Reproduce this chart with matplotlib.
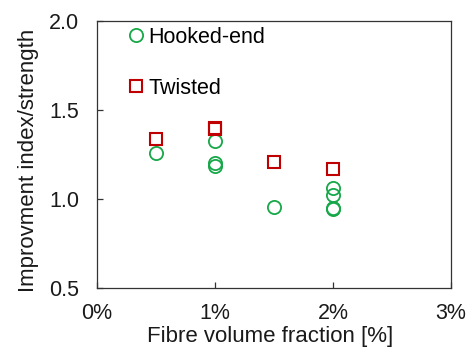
import matplotlib
matplotlib.use("Agg")
import matplotlib.pyplot as plt
from matplotlib.ticker import FuncFormatter

plt.rcParams['font.family'] = ['Liberation Sans', 'DejaVu Sans']

# Fibre volume fraction [%] and improvement index per fibre type
hooked_x = [0.5, 1.0, 1.0, 1.0, 1.5, 2.0, 2.0, 2.0, 2.0]
hooked_y = [1.257, 1.328, 1.205, 1.185, 0.953, 1.060, 1.022, 0.950, 0.943]
twisted_x = [0.5, 1.0, 1.0, 1.5, 2.0]
twisted_y = [1.335, 1.400, 1.392, 1.208, 1.170]

x_ticks = [0, 1, 2, 3]
y_ticks = [0.5, 1.0, 1.5, 2.0]

green = '#16a848'
red = '#c00000'
fs = 15.5
label_fs = 16

fig = plt.figure(figsize=(4.74, 3.51), dpi=100)
ax = fig.add_axes([0.2046, 0.1795, 0.747, 0.7605])

ax.plot(hooked_x, hooked_y, linestyle='none', marker='o', markersize=9.5,
        markerfacecolor='none', markeredgecolor=green, markeredgewidth=1.3,
        label='Hooked-end')
ax.plot(twisted_x, twisted_y, linestyle='none', marker='s', markersize=9,
        markerfacecolor='none', markeredgecolor=red, markeredgewidth=1.5,
        label='Twisted')

ax.set_xlim(0, 3)
ax.set_ylim(0.5, 2.0)
ax.set_xticks(x_ticks)
ax.set_yticks(y_ticks)
ax.xaxis.set_major_formatter(FuncFormatter(lambda v, p: f"{v:.0f}%"))
ax.yaxis.set_major_formatter(FuncFormatter(lambda v, p: f"{v:.1f}"))

ax.tick_params(axis='both', direction='in', length=4, width=0.9,
               color='#333333', labelsize=fs, labelcolor='#1a1a1a')
ax.tick_params(axis='y', pad=13)
ax.tick_params(axis='x', pad=11)

for s in ax.spines.values():
    s.set_color('#333333')
    s.set_linewidth(0.9)

ax.set_xlabel('Fibre volume fraction [%]', fontsize=label_fs, color='#1a1a1a')
ax.set_ylabel('Improvment index/strength', fontsize=label_fs, color='#1a1a1a')
ax.xaxis.set_label_coords(0.489, -0.143)
ax.yaxis.set_label_coords(-0.164, 0.4775)

ax.legend(loc='upper left', bbox_to_anchor=(0.0616, 1.011), frameon=False,
          fontsize=fs, handletextpad=0.16, labelspacing=1.4,
          handlelength=0.8, borderaxespad=0.0)

fig.savefig('out.png', dpi=100)
